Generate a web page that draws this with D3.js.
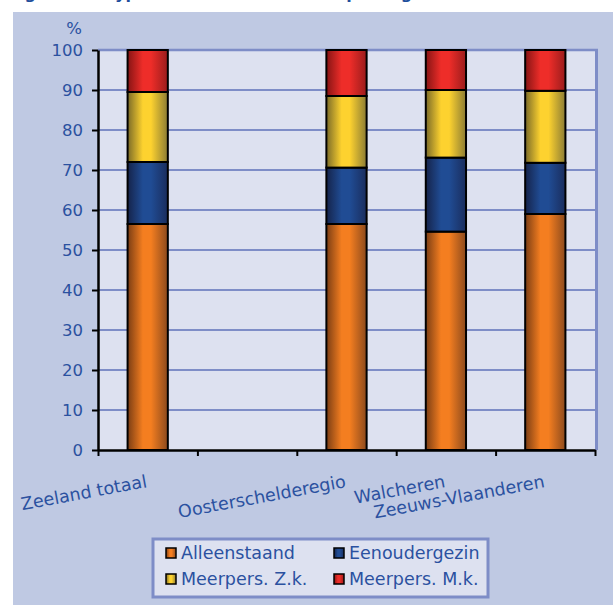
<!DOCTYPE html>
<html>
<head>
<meta charset="utf-8">
<script src="https://cdn.jsdelivr.net/npm/d3@7"></script>
<style>
  html, body { margin: 0; padding: 0; background: #ffffff; }
  svg { display: block; }
</style>
</head>
<body>
<svg id="chart" width="613" height="605"></svg>
<script>
// ---- data ----
const categories = ["Zeeland totaal", "", "Oosterschelderegio", "Walcheren", "Zeeuws-Vlaanderen"];
const seriesNames = ["Alleenstaand", "Eenoudergezin", "Meerpers. Z.k.", "Meerpers. M.k."];
const alleenstaand  = [56.5, null, 56.5, 54.6, 59.0];
const eenoudergezin = [15.5, null, 14.1, 18.5, 12.8];
const meerpersZk    = [17.5, null, 17.9, 16.9, 18.0];
const meerpersMk    = [10.5, null, 11.5, 10.0, 10.2];
const yTicks = [0, 10, 20, 30, 40, 50, 60, 70, 80, 90, 100];
const titleText = "Figuur 3.2 Type huishoudens in 2008 per regio";

const seriesValues = [alleenstaand, eenoudergezin, meerpersZk, meerpersMk];
const gradColors = [
  ["#7a3d14", "#f47e20", "#f47e20", "#8c4a1d"],
  ["#15234a", "#204c94", "#204c94", "#1a2d5d"],
  ["#7a6a28", "#fdd22f", "#fdd22f", "#8c7c34"],
  ["#861414", "#ee2d29", "#ee2d29", "#9a1c1c"]
];

const svg = d3.select("#chart");
const W = 613, H = 605;
const plot = { left: 98, right: 595, top: 50, bottom: 450 };
const textBlue = "#2b51a0";
const gridBlue = "#7e8dc7";
const font = "'DejaVu Sans', Verdana, sans-serif";

// gradients
const defs = svg.append("defs");
gradColors.forEach((c, i) => {
  const g = defs.append("linearGradient").attr("id", "g" + i)
    .attr("x1", "0").attr("x2", "1").attr("y1", "0").attr("y2", "0");
  [0, 0.38, 0.58, 1].forEach((o, j) => g.append("stop").attr("offset", o).attr("stop-color", c[j]));
});

// title (mostly cut off at top)
svg.append("text").attr("x", 8).attr("y", -1)
  .attr("font-family", font).attr("font-size", 16).attr("font-weight", "bold")
  .attr("fill", "#1f4e9c").text(titleText);

// panel background
svg.append("rect").attr("x", 13).attr("y", 12).attr("width", W - 13).attr("height", H - 12)
  .attr("fill", "#bfc9e3");

// scales
const x = d3.scaleBand().domain(d3.range(categories.length)).range([plot.left, plot.right])
  .paddingInner(0).paddingOuter(0);
const xEdge = d3.scaleLinear().domain([0, categories.length]).range([plot.left, plot.right]);
const y = d3.scaleLinear().domain([0, 100]).range([plot.bottom, plot.top]);

// plot area
svg.append("rect").attr("x", plot.left).attr("y", plot.top)
  .attr("width", plot.right - plot.left + 1).attr("height", plot.bottom - plot.top)
  .attr("fill", "#dde1f0");

// gridlines
svg.append("g").selectAll("line").data(yTicks.filter(d => d > 0)).join("line")
  .attr("x1", plot.left).attr("x2", plot.right)
  .attr("y1", d => y(d)).attr("y2", d => y(d))
  .attr("stroke", gridBlue).attr("stroke-width", d => d === 100 ? 2.5 : 2);

// right border of plot area
svg.append("line").attr("x1", plot.right + 1.5).attr("x2", plot.right + 1.5)
  .attr("y1", plot.top - 1.2).attr("y2", plot.bottom)
  .attr("stroke", gridBlue).attr("stroke-width", 3);

// stacked bars
const barW = x.bandwidth() * 0.405;
const stackData = categories.map((c, i) => {
  let acc = 0;
  return seriesValues.map((s, k) => {
    const v = s[i];
    if (v == null) return null;
    const seg = { i, k, y0: acc, y1: acc + v };
    acc += v;
    return seg;
  }).filter(d => d);
}).flat();

svg.append("g").selectAll("rect").data(stackData).join("rect")
  .attr("x", d => x(d.i) + (x.bandwidth() - barW) / 2)
  .attr("width", barW)
  .attr("y", d => y(d.y1))
  .attr("height", d => y(d.y0) - y(d.y1))
  .attr("fill", d => "url(#g" + d.k + ")")
  .attr("stroke", "#000").attr("stroke-width", 2);

// y axis
const yAxis = svg.append("g").attr("transform", `translate(${plot.left},0)`)
  .call(d3.axisLeft(y).tickValues(yTicks).tickSize(6).tickSizeOuter(0).tickPadding(9));
yAxis.select(".domain").attr("stroke", "#000").attr("stroke-width", 2.5);
yAxis.selectAll(".tick line").attr("stroke", "#000").attr("stroke-width", 2);
yAxis.selectAll(".tick text").attr("font-family", font).attr("font-size", 16.5)
  .attr("fill", textBlue);

// % label
svg.append("text").attr("x", 82).attr("y", 34).attr("text-anchor", "end")
  .attr("font-family", font).attr("font-size", 16.5).attr("fill", textBlue).text("%");

// x axis
const xAxis = svg.append("g").attr("transform", `translate(0,${plot.bottom})`)
  .call(d3.axisBottom(xEdge).tickValues(d3.range(categories.length + 1)).tickSize(6)
    .tickSizeOuter(0).tickFormat(""));
xAxis.select(".domain").attr("stroke", "#000").attr("stroke-width", 2.5);
xAxis.selectAll(".tick line").attr("stroke", "#000").attr("stroke-width", 2);

// category labels (rotated)
svg.append("g").selectAll("text").data(categories.map((c, i) => ({ c, i })).filter(d => d.c))
  .join("text")
  .attr("transform", d => `translate(${x(d.i) + x.bandwidth() / 2},487) rotate(-10.5)`)
  .attr("text-anchor", "end")
  .attr("font-family", font).attr("font-size", 17.5).attr("fill", textBlue)
  .text(d => d.c);

// legend
const lg = svg.append("g");
lg.append("rect").attr("x", 153).attr("y", 539).attr("width", 335).attr("height", 58)
  .attr("fill", "#dde1f0").attr("stroke", gridBlue).attr("stroke-width", 3);
const legendPos = [
  { sx: 166, ty: 559 }, { sx: 334, ty: 559 },
  { sx: 166, ty: 585 }, { sx: 334, ty: 585 }
];
seriesNames.forEach((name, k) => {
  const p = legendPos[k];
  lg.append("rect").attr("x", p.sx).attr("y", p.ty - 11).attr("width", 10).attr("height", 10)
    .attr("fill", "url(#g" + k + ")").attr("stroke", "#000").attr("stroke-width", 1.5);
  lg.append("text").attr("x", p.sx + 15).attr("y", p.ty)
    .attr("font-family", font).attr("font-size", 17.5).attr("fill", textBlue).text(name);
});
</script>
</body>
</html>
